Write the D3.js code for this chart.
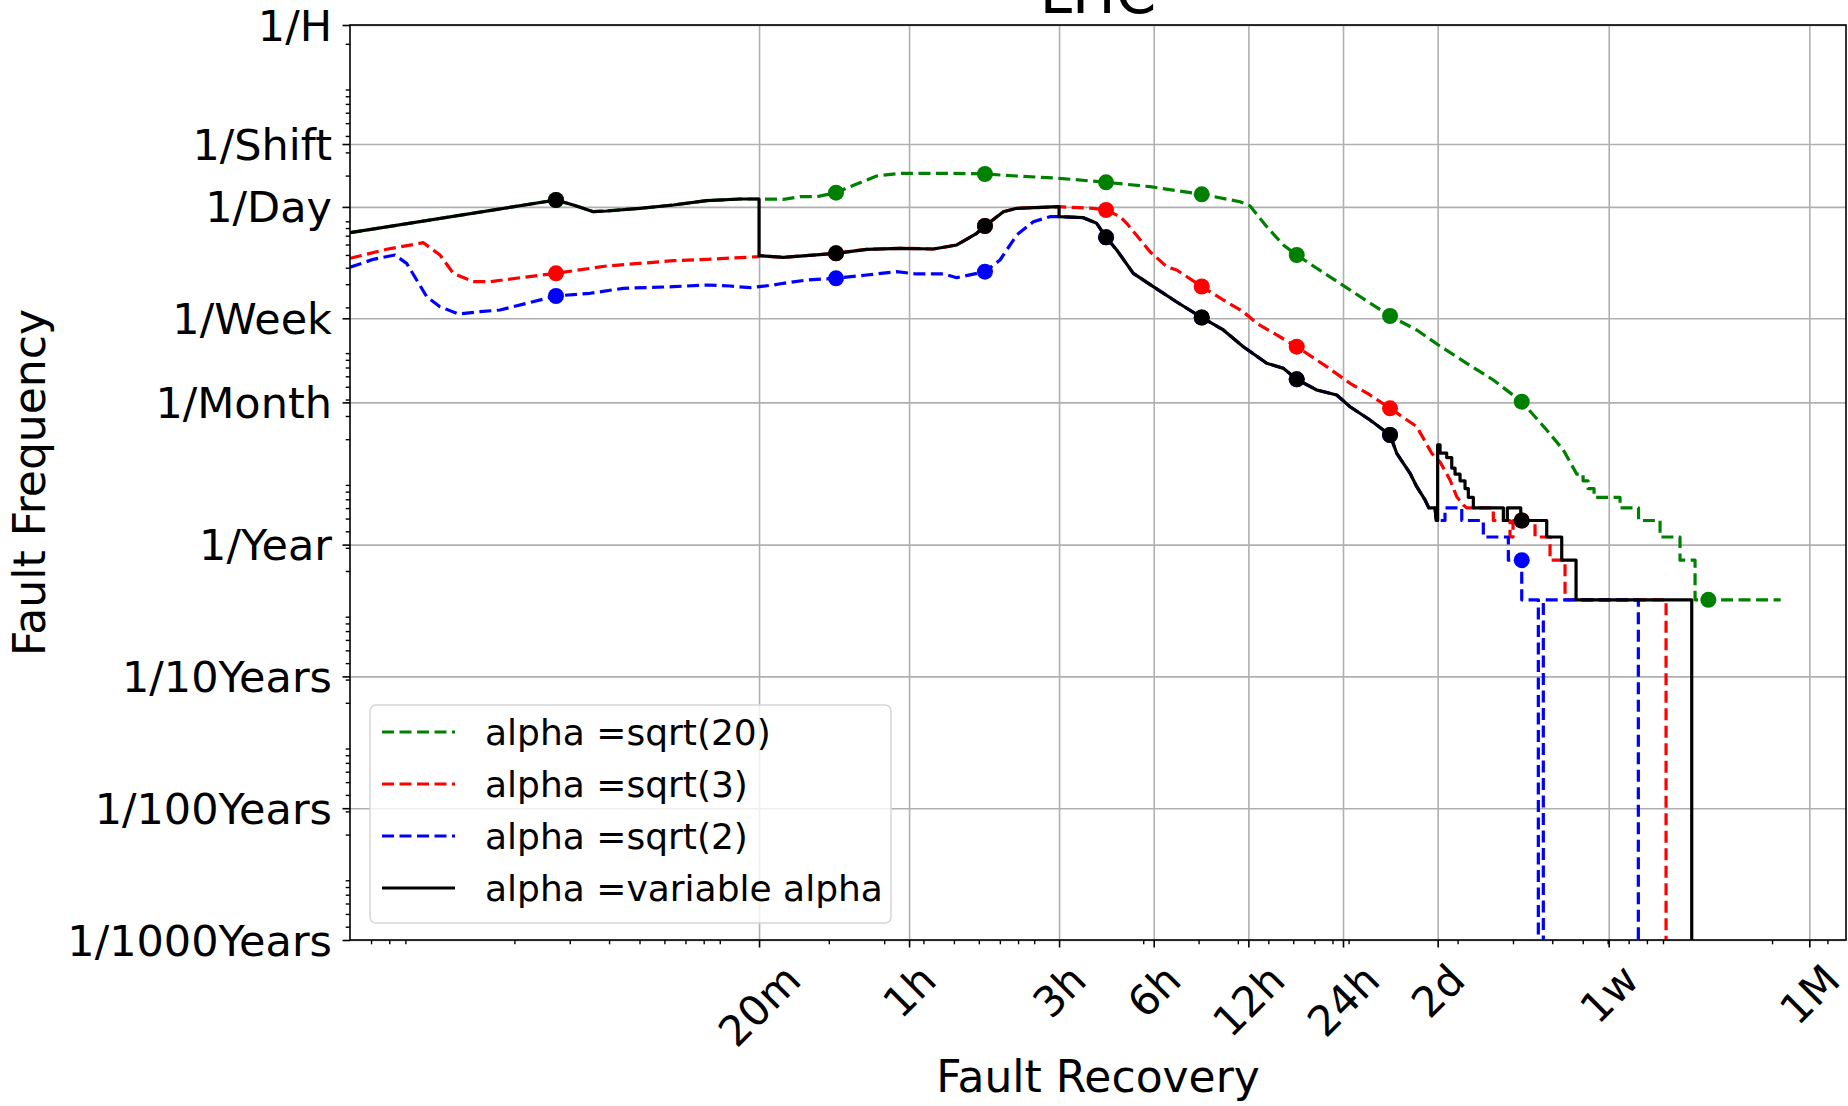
<!DOCTYPE html>
<html><head><meta charset="utf-8">
<script src="https://cdn.jsdelivr.net/npm/d3@7"></script>
<style>
html,body{margin:0;padding:0;background:#fff;}
svg{display:block;}
text{font-family:"DejaVu Sans",sans-serif;fill:#000;}
</style></head><body>
<svg id="chart" width="1848" height="1106"></svg>
<script>
// ---------- data (x: minutes, y: events per hour) ----------
const xTickValues = [20, 60, 180, 360, 720, 1440, 2880, 10080, 43800];
const xTickLabels = ["20m","1h","3h","6h","12h","24h","2d","1w","1M"];
const yTickValues = [1, 1/8, 1/24, 1/168, 1/730, 1/8760, 1/87600, 1/876000, 1/8760000];
const yTickLabels = ["1/H","1/Shift","1/Day","1/Week","1/Month","1/Year","1/10Years","1/100Years","1/1000Years"];
const seriesNames = ["alpha =sqrt(20)","alpha =sqrt(3)","alpha =sqrt(2)","alpha =variable alpha"];
const markerTimes = [4.52, 35.14, 104.6, 253.9, 511.7, 1026, 2032, 5331, 20910];

// segment shared by sqrt(20) and variable alpha (below 20 min)
const sqrt20Early = [[1,0.02655],[4.52,0.04701],[5.13,0.04307],[5.94,0.03833],[6.55,0.03880],[8.36,0.04067],[10.67,0.04307],[13.63,0.04644],[17.40,0.04784],[20,0.04784]];
// segment shared by sqrt(3) and variable alpha (20 min - 3 h)
const sqrt3Mid = [[20,0.01777],[23.89,0.01728],[35.14,0.01853],[44.0,0.01987],[56.2,0.02022],[71.7,0.01998],[85.1,0.02142],[98.5,0.02627],[104.6,0.02985],[119.7,0.03833],[132.0,0.04067],[179.0,0.04181],[180,0.04181]];
// segment shared by sqrt(2) and variable alpha (3 h - 2 d)
const sqrt2Late = [[180,0.03512],[215.0,0.03451],[237.1,0.03129],[253.9,0.02450],[274.6,0.01963],[310.0,0.01306],[358.9,0.01034],[426.1,0.007913],[511.7,0.006036],[599.4,0.004852],[693.9,0.003624],[823.7,0.002711],[930.0,0.002485],[1026,0.002050],[1188,0.001701],[1375,0.001559],[1516,0.001270],[1755,0.001007],[2032,0.000775],[2134,0.000563],[2353,0.000397],[2471,0.000314],[2626,0.000249],[2700,0.000217],[2825,0.000217],[2850,0.000174],[2880,0.000174]];

const greenRest = [[23.89,0.04759],[27.0,0.04980],[30.5,0.04980],[35.14,0.05340],[38.9,0.05932],[47.3,0.07149],[56.2,0.07494],[81.0,0.07494],[104.6,0.07405],[132.0,0.07149],[180,0.06868],[253.9,0.06406],[350.4,0.05932],[511.7,0.05193],[677.3,0.04563],[729,0.04232],[823.7,0.02949],[930.0,0.02142],[1026,0.01798],[1188,0.01426],[1516,0.009759],[2032,0.006195],[2471,0.004852],[2894,0.003733],[3563,0.002711],[4329,0.002025],[5331,0.001386],[6401,0.000846],[7229,0.000596],[7976,0.000391],[8353,0.000391],[8353,0.000348],[8664,0.000348],[8664,0.000304],[9054,0.000304],[9054,0.000261],[10950,0.000261],[10950,0.000217],[12540,0.000217],[12540,0.000174],[14680,0.000174],[14680,0.0001304],[16990,0.0001304],[16990,0.0000870],[18970,0.0000870],[18970,0.0000435],[20910,0.0000435],[35510,0.0000435]];

const redEarly = [[1,0.01698],[1.308,0.01987],[1.711,0.02230],[1.933,0.01798],[2.131,0.01306],[2.467,0.01128],[2.788,0.01128],[3.558,0.01218],[4.52,0.01306],[6.55,0.01484],[10.67,0.01628],[13.63,0.01668],[19.9,0.01746]];
const redRest = [[231.3,0.04067],[253.9,0.03948],[281.3,0.03512],[295.3,0.03129],[350.4,0.01905],[396.0,0.01466],[426.1,0.01384],[511.7,0.01037],[599.4,0.008195],[693.9,0.006679],[765.5,0.005453],[886.1,0.004446],[1026,0.003624],[1278,0.002555],[1516,0.001912],[1755,0.001559],[2032,0.001235],[2471,0.000896],[2757,0.000563],[2931,0.000483],[3153,0.000353],[3311,0.000264],[3476,0.000228],[3560,0.000217],[4329,0.000217],[4329,0.000174],[4893,0.000174],[4893,0.0001304],[5001,0.0001304],[5001,0.000174],[5331,0.000174],[5876,0.000174],[5876,0.0001304],[6559,0.0001304],[6559,0.0000870],[7320,0.0000870],[7320,0.0000435],[15340,0.0000435],[15340,0]];

const blueEarly = [[1,0.01451],[1.186,0.01668],[1.390,0.01798],[1.514,0.01555],[1.754,0.008682],[1.933,0.007290],[2.211,0.006418],[2.591,0.006679],[3.000,0.006882],[3.648,0.007734],[4.52,0.008789],[5.80,0.009212],[7.40,0.01005],[10.67,0.01034],[13.63,0.01065],[16.17,0.01046],[18.72,0.01016],[22.20,0.01065],[23.89,0.01097],[28.36,0.01162],[35.14,0.01197],[44.0,0.01268],[54.8,0.01343],[63.5,0.01291],[77.1,0.01291],[85.1,0.01210],[104.6,0.01343],[116.8,0.01648],[132.0,0.02550],[149.1,0.03218],[168.5,0.03512]];
const blueRest = [[3039,0.000174],[3039,0.000217],[3436,0.000217],[3436,0.000174],[4024,0.000174],[4024,0.0001304],[4833,0.0001304],[4833,0.0000870],[5331,0.0000870],[5331,0.0000435],[6020,0.0000435],[6020,0],[6244,0],[6244,0.0000435],[12522,0.0000435],[12522,0]];

const blackRest = [[2880,0.000652],[2931,0.000652],[2931,0.000565],[3077,0.000565],[3077,0.000522],[3193,0.000522],[3193,0.000435],[3271,0.000435],[3271,0.000391],[3393,0.000391],[3393,0.000348],[3519,0.000348],[3519,0.000304],[3605,0.000304],[3605,0.000261],[3740,0.000261],[3740,0.000217],[4660,0.000217],[4660,0.000174],[4797,0.000174],[4797,0.000217],[5292,0.000217],[5292,0.000174],[5331,0.000174],[6401,0.000174],[6401,0.0001304],[7145,0.0001304],[7145,0.0000870],[7935,0.0000870],[7935,0.0000435],[18513,0.0000435],[18513,0]];

const greenSeries = sqrt20Early.concat(greenRest);
const redSeries = redEarly.concat(sqrt3Mid, redRest);
const blueSeries = blueEarly.concat(sqrt2Late, blueRest);
const blackSeries = sqrt20Early.concat(sqrt3Mid, sqrt2Late, blackRest);

// ---------- layout / style ----------
const L = 350, R = 1846, T = 25, B = 940;
const styles = [
  {color:"#008000", dash:"12,5.5"},
  {color:"#ff0000", dash:"12,5.5"},
  {color:"#0000ff", dash:"12,5.5"},
  {color:"#000000", dash:null}
];
const LW = 3.2;
const allSeries = [greenSeries, redSeries, blueSeries, blackSeries];

const svg = d3.select("#chart");
const x = d3.scaleLog().domain([1, 57300]).range([L, R]);
const y = d3.scaleLog().domain([1/8760000, 1]).range([B, T]);

// minor ticks: x at k*10^n seconds, y at k*10^n Hz
const xMinor = [], yMinor = [];
for (let n = 0; n <= 7; n++) for (let k = 2; k <= 9; k++) {
  const m = k * Math.pow(10, n) / 60;
  if (m > 1 && m < 57300) xMinor.push(m);
}
for (let n = -12; n <= -3; n++) for (let k = 2; k <= 9; k++) {
  const v = k * Math.pow(10, n) * 3600;
  if (v > 1/8760000 && v < 1) yMinor.push(v);
}

// grid
const grid = svg.append("g");
grid.append("g").attr("transform", `translate(0,${B})`)
  .call(d3.axisBottom(x).tickValues(xTickValues).tickSize(-(B - T)).tickFormat(""))
  .call(g => g.select(".domain").remove())
  .selectAll("line").attr("stroke", "#b0b0b0").attr("stroke-width", 1.6);
grid.append("g").attr("transform", `translate(${L},0)`)
  .call(d3.axisLeft(y).tickValues(yTickValues).tickSize(-(R - L)).tickFormat(""))
  .call(g => g.select(".domain").remove())
  .selectAll("line").attr("stroke", "#b0b0b0").attr("stroke-width", 1.6);

// clip
svg.append("defs").append("clipPath").attr("id", "clip")
  .append("rect").attr("x", L).attr("y", T).attr("width", R - L).attr("height", B - T);

const line = d3.line()
  .x(d => x(d[0]))
  .y(d => d[1] > 0 ? y(d[1]) : B + 80);

const plot = svg.append("g").attr("clip-path", "url(#clip)");
allSeries.forEach((data, i) => {
  const st = styles[i];
  plot.append("path").datum(data)
    .attr("d", line).attr("fill", "none")
    .attr("stroke", st.color).attr("stroke-width", LW)
    .attr("stroke-linejoin", "round")
    .attr("stroke-dasharray", st.dash);
  const marks = [];
  markerTimes.forEach(t => {
    const p = data.find(d => d[0] === t);
    if (p && p[1] > 0) marks.push(p);
  });
  plot.selectAll(null).data(marks).enter().append("circle")
    .attr("cx", d => x(d[0])).attr("cy", d => y(d[1]))
    .attr("r", 8).attr("fill", st.color);
});

// axes (ticks + labels)
const xAxisG = svg.append("g").attr("transform", `translate(0,${B})`);
xAxisG.call(d3.axisBottom(x).tickValues(xMinor).tickSize(4.3).tickFormat(""))
  .call(g => g.select(".domain").remove())
  .selectAll("line").attr("stroke-width", 1.4);
const xMajor = svg.append("g").attr("transform", `translate(0,${B})`);
xMajor.call(d3.axisBottom(x).tickValues(xTickValues).tickSize(7.5)
    .tickFormat((d, i) => xTickLabels[i]))
  .call(g => g.select(".domain").remove());
xMajor.selectAll("line").attr("stroke-width", 1.6);
xMajor.selectAll("text").each(function(d) {
  const t = d3.select(this);
  t.attr("font-size", 42).attr("font-family", "DejaVu Sans").attr("fill", "#000")
   .attr("y", null).attr("dy", null)
   .attr("text-anchor", "middle").attr("dominant-baseline", "central");
  const w = this.getComputedTextLength();
  const side = (w + 49) * Math.SQRT1_2;
  t.attr("transform", `translate(0,${(955 - B) + side / 2}) rotate(-45)`);
});

const yAxisG = svg.append("g").attr("transform", `translate(${L},0)`);
yAxisG.call(d3.axisLeft(y).tickValues(yMinor).tickSize(4.3).tickFormat(""))
  .call(g => g.select(".domain").remove())
  .selectAll("line").attr("stroke-width", 1.4);
const yMajor = svg.append("g").attr("transform", `translate(${L},0)`);
yMajor.call(d3.axisLeft(y).tickValues(yTickValues).tickSize(7.5).tickPadding(10.5)
    .tickFormat((d, i) => yTickLabels[i]))
  .call(g => g.select(".domain").remove());
yMajor.selectAll("line").attr("stroke-width", 1.6);
yMajor.selectAll("text").attr("font-size", 43).attr("font-family", "DejaVu Sans")
  .attr("fill", "#000").attr("dy", null).attr("dominant-baseline", "central");

// spines
svg.append("rect").attr("x", L).attr("y", T).attr("width", R - L).attr("height", B - T)
  .attr("fill", "none").attr("stroke", "#000").attr("stroke-width", 1.6);

// legend
const lg = svg.append("g");
lg.append("rect").attr("x", 370).attr("y", 705).attr("width", 521).attr("height", 218)
  .attr("rx", 6).attr("fill", "#fff").attr("fill-opacity", 0.8)
  .attr("stroke", "#d6d6d6").attr("stroke-width", 1.5);
const rowY = [732, 784, 836, 888];
seriesNames.forEach((name, i) => {
  lg.append("line").attr("x1", 382).attr("x2", 455).attr("y1", rowY[i]).attr("y2", rowY[i])
    .attr("stroke", styles[i].color).attr("stroke-width", LW)
    .attr("stroke-dasharray", styles[i].dash);
  lg.append("text").attr("x", 485).attr("y", rowY[i]).attr("font-size", 36)
    .attr("dominant-baseline", "central").text(name);
});

// labels
svg.append("text").attr("x", (L + R) / 2).attr("y", 13).attr("font-size", 58)
  .attr("text-anchor", "middle").text("LHC");
svg.append("text").attr("x", (L + R) / 2).attr("y", 1092).attr("font-size", 44)
  .attr("text-anchor", "middle").text("Fault Recovery");
svg.append("text").attr("transform", `translate(45,${(T + B) / 2}) rotate(-90)`)
  .attr("font-size", 44).attr("text-anchor", "middle").text("Fault Frequency");
</script>
</body></html>
